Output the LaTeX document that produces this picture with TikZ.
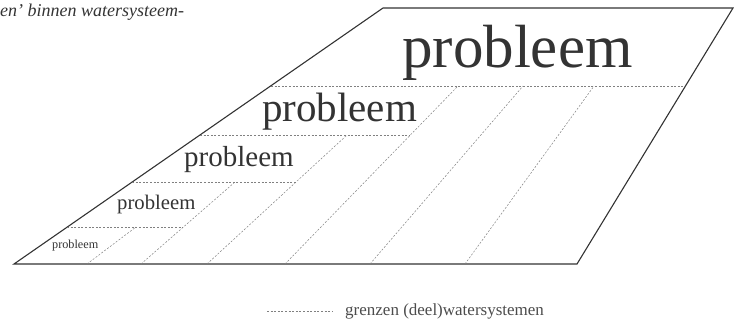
\documentclass[tikz,border=0pt]{standalone}
\usepackage{fontspec}
\setmainfont{Liberation Serif}
\usepackage{tikz}
\usetikzlibrary{calc}
\tikzset{
    outline/.style={line width=1.1pt, black!80, line join=miter},
    boundary/.style={line width=0.5pt, black!50, dash pattern=on 2pt off 1.6pt},
    problem/.style={anchor=base west, inner sep=0pt, text=black!80}
}

\begin{document}
\begin{tikzpicture}[x=1pt, y=-1pt,
    legend/.style={anchor=base west, inner sep=0pt, text=black!70, font=\fontsize{17}{17}\selectfont}
]
    \useasboundingbox (0,0) rectangle (735,320);

    % --- Heading (cut off at the left) ---
    \node[anchor=base west, inner sep=0pt, text=black!80, font=\itshape\fontsize{18}{18}\selectfont]
        (kop) at (0,17) {en’ binnen watersysteem-};

    % --- Outer watersystem ---
    \coordinate (bl) at (14,264);
    \coordinate (br) at (577,264);
    \coordinate (tr) at (733,8);
    \coordinate (tl) at (383,8);
    \draw[outline] (bl) -- (br) -- (tr) -- (tl) -- cycle;

    % Slanted boundaries, bottom to top
    \foreach \xb/\xt/\yt [count=\i] in {87/136/227, 141/235/182, 207/347/135,
                                         285/458/86, 370/523/86, 465/594/86}
    {
        \coordinate (s\i b) at (\xb,264);
        \coordinate (s\i t) at (\xt,\yt);
        \draw[boundary] (s\i b) -- (s\i t);
    }

    % Horizontal boundaries
    \foreach \xl/\xr/\y [count=\i] in {67/183/227, 132/296/182, 200/410/135, 271/685/86}
    {
        \coordinate (h\i l) at (\xl,\y);
        \coordinate (h\i r) at (\xr,\y);
        \draw[boundary] (h\i l) -- (h\i r);
    }

    % Problem labels, largest on top
    \foreach \x/\y/\s [count=\i] in {402/68/61, 262/122/41, 184/167/29, 117/210/20.7, 52/248/12.2}
        \node[problem, font=\fontsize{\s}{\s}\selectfont] (p\i) at (\x,\y) {probleem};

    % --- Legend ---
    \coordinate (la) at (267,311);
    \coordinate (lb) at (332,311);
    \draw[boundary] (la) -- (lb);
    \node[legend] (lt) at (345,315) {grenzen (deel)watersystemen};

\end{tikzpicture}
\end{document}
